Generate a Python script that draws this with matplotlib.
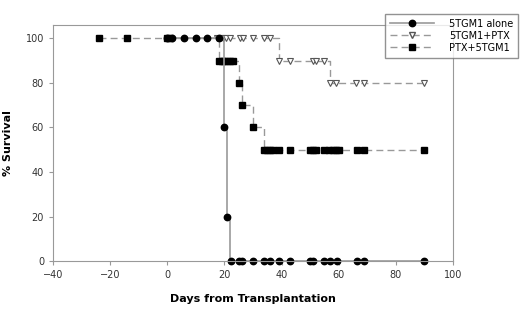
import matplotlib.pyplot as plt

# survival steps (day, % survival) and marker positions for each group
alone_step_x = [0, 20, 20, 21, 21, 22, 22, 90]
alone_step_y = [100, 100, 60, 60, 20, 20, 0, 0]
alone_pts_x = [0, 1.5, 6, 10, 14, 18, 20, 21, 22.4, 25, 26, 30, 34, 36, 39, 43, 50, 51, 55, 57, 59.5, 66.5, 69, 90]
alone_pts_y = [100, 100, 100, 100, 100, 100, 60, 20] + [0] * 16

ptx_step_x = [17.5, 39, 39, 57, 57, 90]
ptx_step_y = [100, 100, 90, 90, 80, 80]
ptx_pts_x = [17.5, 18.5, 19.5, 20.5, 22, 25.5, 26.5, 30, 34, 36, 39, 43, 51, 52, 55, 57, 59, 66, 69, 90]
ptx_pts_y = [100] * 10 + [90] * 5 + [80] * 5

combo_step_x = [-24, 18, 18, 25, 25, 26, 26, 30, 30, 34, 34, 90]
combo_step_y = [100, 100, 90, 90, 80, 80, 70, 70, 60, 60, 50, 50]
combo_pts_x = [-24, -14, 0, 1, 18, 19, 20, 21, 22, 23, 25, 26, 30,
               34, 35, 36, 37, 39, 43, 50, 51, 52, 55, 56.5, 58, 59, 60, 66.5, 69, 90]
combo_pts_y = [100] * 4 + [90] * 6 + [80, 70, 60] + [50] * 17

fig = plt.figure(figsize=(5.2, 3.09), dpi=100)
ax = fig.add_axes([0.102, 0.155, 0.769, 0.764])

gray = '#999999'
ax.plot(combo_step_x, combo_step_y, color=gray, ls=(0, (5, 3)), lw=1)
ax.plot(combo_pts_x, combo_pts_y, 's', color='black', ms=4.2, ls='none')
ax.plot(ptx_step_x, ptx_step_y, color=gray, ls=(0, (5, 3)), lw=1)
ax.plot(ptx_pts_x, ptx_pts_y, 'v', mfc='white', mec='#555555', ms=5, mew=0.8, ls='none')
ax.plot(alone_step_x, alone_step_y, color=gray, lw=1.2)
ax.plot(alone_pts_x, alone_pts_y, 'o', color='black', ms=4.6, ls='none', clip_on=False)

# legend proxies
h1, = ax.plot([], [], color=gray, lw=1.2, marker='o', mfc='black', mec='black', ms=4.6)
h2, = ax.plot([], [], color=gray, ls=(0, (5, 3)), lw=1, marker='v', mfc='white', mec='#555555', ms=5)
h3, = ax.plot([], [], color=gray, ls=(0, (5, 3)), lw=1, marker='s', mfc='black', mec='black', ms=4.2)
leg = fig.legend([h1, h2, h3], ['5TGM1 alone', '5TGM1+PTX', 'PTX+5TGM1'],
                 loc='upper right', bbox_to_anchor=(0.996, 0.955), borderaxespad=0,
                 fontsize=7, frameon=True, fancybox=False, handlelength=4.6,
                 borderpad=0.5, labelspacing=0.2, handletextpad=1.5)
leg.get_frame().set_edgecolor('#777777')
leg.get_frame().set_linewidth(1)

ax.set_xlim(-40, 100)
ax.set_ylim(0, 106)
ax.set_xticks(range(-40, 101, 20))
ax.set_yticks(range(0, 101, 20))
for s in ax.spines.values():
    s.set_color(gray)
ax.tick_params(colors=gray, labelcolor='#333333', labelsize=7, direction='out', length=3)
ax.set_xlabel('Days from Transplantation', fontsize=8, fontweight='bold')
ax.set_ylabel('% Survival', fontsize=8, fontweight='bold')
ax.xaxis.set_label_coords(0.5, -0.14)
ax.yaxis.set_label_coords(-0.1, 0.5)

fig.savefig('out.png', dpi=100)
